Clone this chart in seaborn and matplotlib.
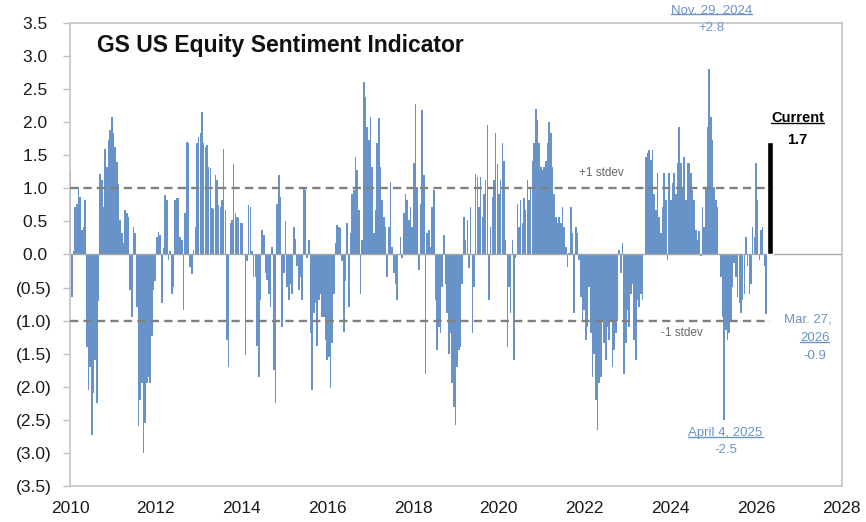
import numpy as np
import pandas as pd
import matplotlib
matplotlib.use("Agg")
import matplotlib.pyplot as plt
import seaborn as sns
from matplotlib.lines import Line2D

# GS US equity sentiment at ~2 week steps (Jan 2010 -> Mar 27 2026)
sent_2010 = [1.25, -0.65, 0.05, 0.72, 0.77, 1.02, 0.87, 0.37, 0.42, 0.82,
             -1.4, -2.05, -1.7, -2.73, -2.1, -1.6, -2.25, -0.7, 1.22, 1.12,
             0.72, 1.6, 1.32, 1.73, 1.88, 2.08, 1.83, 1.63, 1.4, 1.07,
             0.52, 0.32, 0.17, 0.67, 0.62, 0.57, -0.54, -0.94, 0.42, 0.32,
             -0.8, -2.6, -2.2, -1.95, -3.0, -2.55, -1.95, -1.85]
sent_2012 = [-1.95, -1.24, -0.54, -0.4, 0.27, 0.34, 0.3, -0.74, 0.1, 0.9,
             0.82, -0.08, 0.05, -0.59, -0.49, 0.82, 0.85, 0.85, 0.27, 0.22,
             -0.84, 0.62, 1.7, 1.68, -0.19, -0.29, 0.07, 0.42, 1.68, 1.78,
             1.83, 2.15, 1.68, 1.63, 1.65, 1.32, 1.3, 0.7, 0.68, 1.2,
             1.12, 0.75, 0.72, 0.82, 1.6, 0.67, -1.3, -1.7, 0.47, 0.52,
             1.37, 0.62, 0.57, 0.55]
sent_2014 = [0.47, 0.47, 0.0, -1.52, -0.1, 0.75, 0.72, 0.05, -0.34, -0.34,
             -1.39, -1.85, -0.69, 0.37, 0.3, -0.28, -0.39, -0.59, -0.79, 0.12,
             -1.74, -2.25, 0.77, 1.2, 0.87, -1.09, -0.28, 0.5, -0.49, -0.69,
             -0.44, -0.59, 0.42, 0.24, -0.18, -0.54, -0.34, -0.69, 1.0, 0.97,
             -0.05, 0.22, -1.19, -2.05, -0.89, -0.74, -1.39, -0.69, -0.59, -0.94,
             -0.94, -1.29, -1.6, -1.55]
sent_2016 = [-2.02, -1.34, -0.6, 0.17, 0.45, 0.42, 0.4, -0.1, -1.17, -0.4,
             0.47, -0.79, 0.32, 0.92, 0.97, 1.48, 1.28, 0.67, -0.59, 0.22,
             2.61, 2.38, 1.93, 1.73, 2.08, 1.33, 0.32, 0.67, 1.68, 2.06,
             1.33, 0.82, 0.57, 0.42, -0.34, 0.42, 1.1, 0.12, -0.28, -0.44,
             -0.69, 0.0, 0.27, -0.05, 0.62, 0.92, 0.82, 0.52, 0.72, 0.42,
             1.38, 2.28, 1.02, -0.24]
sent_2018 = [0.77, 2.18, 1.2, -1.8, 0.32, 0.37, 0.12, 0.72, 0.97, -0.69,
             -1.45, -1.09, -1.19, -0.49, 0.29, -0.44, -0.89, -1.5, -1.19, -1.95,
             -2.3, -2.58, -1.7, -1.45, -1.4, -0.44, 0.57, 0.22, 0.52, -0.21,
             0.72, -1.19, -0.49, 1.22, 1.17, 0.72, 1.17, 0.57, 0.92, 1.12,
             1.95, -0.69, 0.42, 0.87, 1.12, 1.83, 1.37, 0.92, 1.12, 1.68,
             1.42, 0.22, -1.4, -0.49]
sent_2020 = [-0.89, 0.22, -1.6, -0.05, 0.77, 0.42, 0.82, 0.47, 0.85, 0.67,
             1.12, 0.82, 1.02, 1.42, 1.68, 2.2, 2.03, 1.68, 1.32, 1.27,
             1.32, 1.42, 1.68, 2.0, 1.83, 1.32, 0.92, 0.57, 0.47, 0.57,
             0.47, 0.72, 0.42, 0.12, -0.19, 0.02, 0.72, 0.32, -0.89, 0.42,
             0.32, -0.09, -0.64, -1.0, -0.84, -1.3, -1.09, -0.49, -1.19, -1.85,
             -1.5, -2.2, -2.65, -1.95]
sent_2022 = [-1.85, -1.0, -1.34, -1.6, -1.09, -1.29, -0.99, -1.7, -1.44, -1.19,
             -1.0, 0.07, -0.28, 0.17, -1.8, -1.34, -0.84, -1.09, -0.59, -0.44,
             -1.29, -1.6, -0.69, -0.79, -0.59, -0.69, 0.0, 1.48, 1.53, 1.58,
             1.43, 1.58, 0.92, 0.67, 1.23, 0.57, 0.32, 0.72, 1.23, 0.82,
             -0.08, 1.23, 0.82, 1.08, 1.23, 0.92, 1.38, 1.93, 1.38, 1.02,
             1.48, 0.82, 1.38, 1.38]
sent_2024 = [1.23, 0.97, 0.82, 0.37, 0.22, 0.35, -0.03, 0.72, 0.42, 1.02,
             1.93, 2.8, 2.08, 1.73, 1.02, 0.82, 0.72, 0.0, -0.34, -0.94,
             -2.5, -1.14, -1.29, -1.19, -0.99, -0.49, -0.13, -0.34, -0.64, -0.74,
             -0.89, -0.69, -0.59, 0.27, -0.18, -0.59, -0.44, 0.42, 0.27, 1.38,
             0.82, -0.08, 0.37, 0.42, -0.18, -0.9]

current_value = 1.7
current_date = "2026-05-01"
stdev_levels = [1.0, -1.0]
y_ticks = np.arange(-3.5, 3.51, 0.5)
x_ticks = list(range(2010, 2029, 2))

values = np.array(sent_2010 + sent_2012 + sent_2014 + sent_2016 +
                  sent_2018 + sent_2020 + sent_2022 + sent_2024)
dates = pd.date_range("2010-01-01", "2026-03-27", periods=len(values))
start = pd.Timestamp("2010-01-01")


def to_year(d):
    return 2010 + (d - start) / pd.Timedelta(days=365.25)


df = pd.DataFrame({"year": to_year(dates), "value": values})
cur_year = to_year(pd.Timestamp(current_date))

sns.set_theme(style="white")
plt.rcParams["font.family"] = ["Liberation Sans", "DejaVu Sans"]

bar_blue = "#6893c9"
note_blue = "#6a94c9"
dash_grey = "#808080"

fig = plt.figure(figsize=(8.66, 5.22), dpi=100)
ax = fig.add_axes([0.081, 0.069, 0.891, 0.887])

sns.barplot(data=df, x="year", y="value", native_scale=True, width=0.95,
            color=bar_blue, saturation=1, errorbar=None, linewidth=0, ax=ax)
ax.bar(cur_year, current_value, width=0.13, color="black", zorder=3)

ax.axhline(0, color="#a6a6a6", lw=1, zorder=1)
for lvl in stdev_levels:
    ax.plot([2010, cur_year], [lvl, lvl], color=dash_grey, lw=1.7,
            ls=(0, (3.5, 2.2)), zorder=4)

ax.set_xlim(2010, 2028)
ax.set_ylim(-3.5, 3.5)
ax.set_xticks(x_ticks)
ax.set_xticklabels([str(x) for x in x_ticks])
ax.set_yticks(y_ticks)
ax.set_yticklabels([f"{v:.1f} " if v >= -1e-9 else f"({abs(v):.1f})" for v in y_ticks])
ax.set_xlabel("")
ax.set_ylabel("")
ax.tick_params(axis="y", left=True, length=5, width=1, color="#bfbfbf",
               labelsize=12.5, labelcolor="#1a1a1a", pad=8)
ax.tick_params(axis="x", bottom=False, length=0, labelsize=12.5,
               labelcolor="#1a1a1a", pad=11)
for sp in ax.spines.values():
    sp.set_color("#c4c4c4")
    sp.set_linewidth(1.2)

ax.text(0.035, 0.952, "GS US Equity Sentiment Indicator", transform=ax.transAxes,
        fontsize=16.5, fontweight="bold", color="#111111", va="center", ha="left")

ax.text(2022.4, 1.23, "+1 stdev", color="#666666", fontsize=8.5, ha="center", va="center")
ax.text(2024.26, -1.19, "-1 stdev", color="#666666", fontsize=8.5, ha="center", va="center")

under = []
t = ax.text(2024.96, 3.69, "Nov. 29, 2024", color=note_blue, fontsize=9.5,
            ha="center", va="center", clip_on=False)
under.append((t, note_blue))
ax.text(2024.96, 3.42, "+2.8", color=note_blue, fontsize=9.5, ha="center",
        va="center", clip_on=False)
t = ax.text(2025.29, -2.70, "April 4, 2025", color=note_blue, fontsize=9.5,
            ha="center", va="center")
under.append((t, note_blue))
ax.text(2025.29, -2.95, "-2.5", color=note_blue, fontsize=9.5, ha="center", va="center")
ax.text(2027.2, -0.99, "Mar. 27,", color=note_blue, fontsize=9.5, ha="center", va="center")
t = ax.text(2027.37, -1.26, "2026", color=note_blue, fontsize=9.5, ha="center", va="center")
under.append((t, note_blue))
ax.text(2027.37, -1.53, "-0.9", color=note_blue, fontsize=9.5, ha="center", va="center")
t = ax.text(2026.97, 2.06, "Current", color="black", fontsize=10.5,
            fontweight="bold", ha="center", va="center")
under.append((t, "black"))
ax.text(2026.97, 1.73, "1.7", color="black", fontsize=10.5, fontweight="bold",
        ha="center", va="center")

# underline the callouts
fig.canvas.draw()
inv = fig.transFigure.inverted()
for t, c in under:
    bb = t.get_window_extent()
    (x0, y0), (x1, _) = inv.transform([(bb.x0, bb.y0 + 2), (bb.x1, bb.y0)])
    fig.add_artist(Line2D([x0, x1], [y0, y0], transform=fig.transFigure,
                          color=c, lw=1))

fig.savefig("out.png", dpi=100)
